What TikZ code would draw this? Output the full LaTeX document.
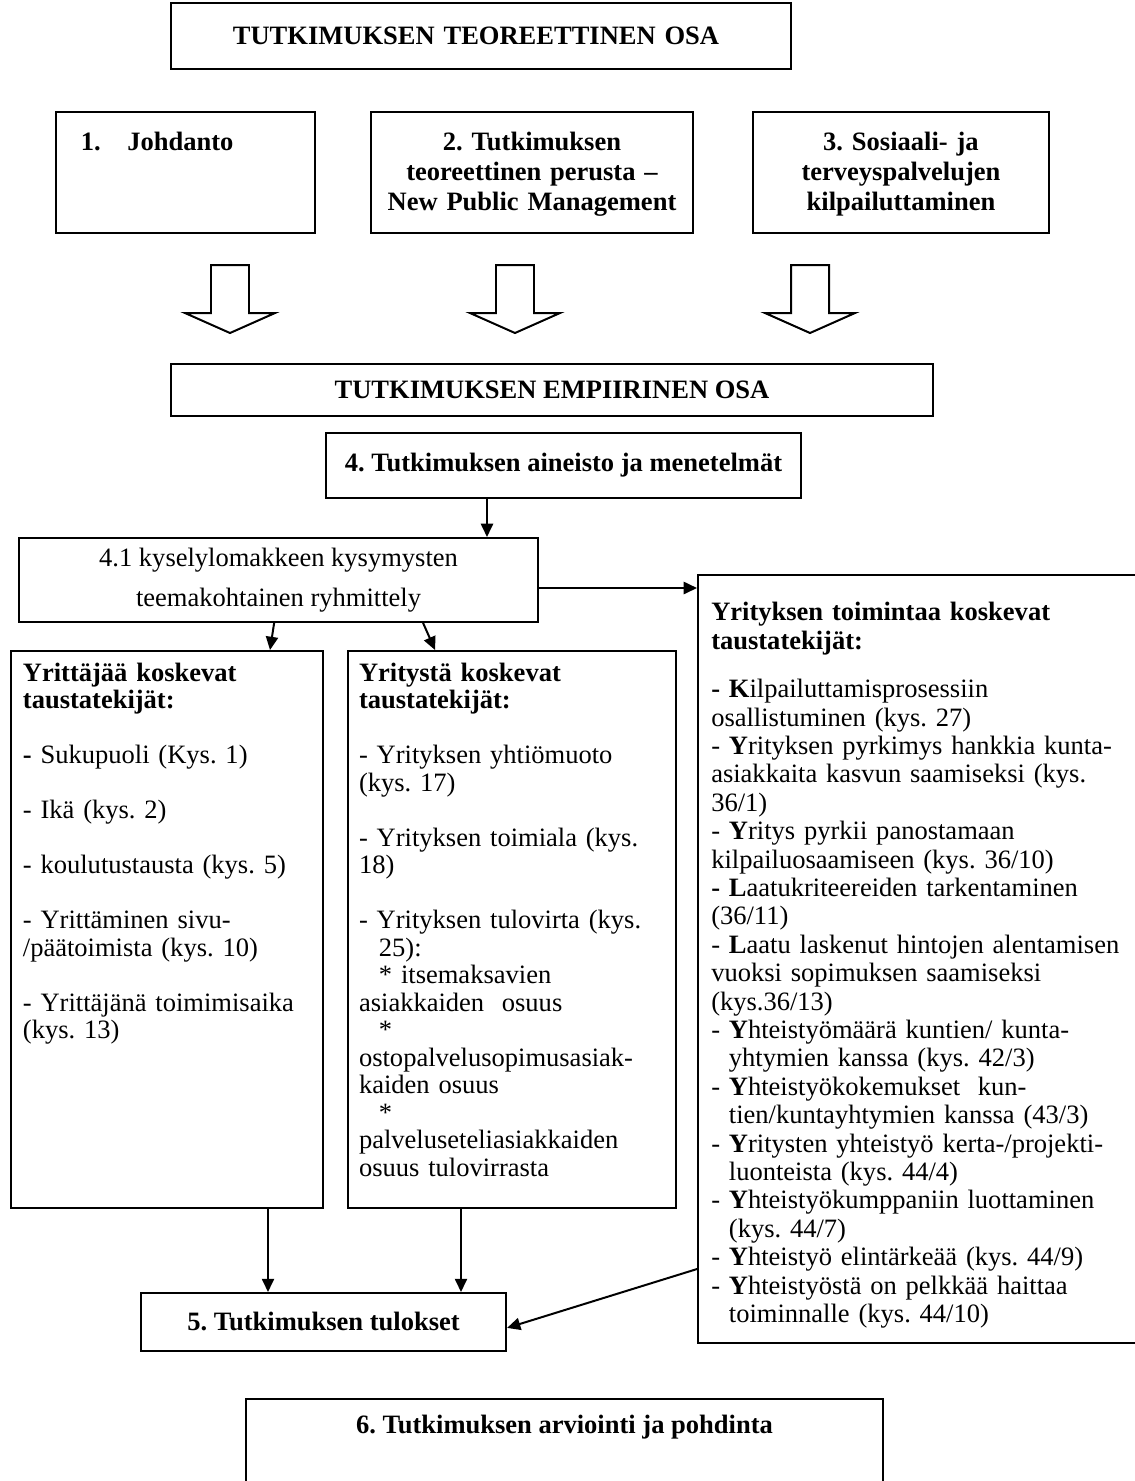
\documentclass[tikz,border=0pt]{standalone}
\usepackage{fontspec}
\setmainfont{Liberation Serif}
\usetikzlibrary{arrows.meta, positioning, calc}
\frenchspacing

\begin{document}
\begin{tikzpicture}[x=0.4525pt, y=-0.4525pt,
  fr/.style={rectangle, draw, line width=0.9pt, anchor=north west},
  head/.style={fr, font=\fontsize{12}{13.6}\selectfont\bfseries},
  body/.style={fr, font=\fontsize{12}{12.45}\selectfont, align=left},
  arr/.style={-{Triangle[length=6pt,width=5.5pt]}, line width=0.9pt},
  blockarrow/.pic={\draw[line width=0.9pt] (-19,0) -- (19,0) -- (19,48) -- (45,48) -- (0,68) -- (-45,48) -- (-19,48) -- cycle;}
]
\useasboundingbox (0,0) rectangle (1134,1481);

% teoreettinen osa
\node[head, minimum height=29.9pt, text width=224.6pt, inner xsep=28pt, align=left] (teor) at (170,2) {TUTKIMUKSEN TEOREETTINEN OSA};
\node[head, text width=94.6pt, inner xsep=11.3pt, inner ysep=9pt, text height=8.5pt, text depth=28.3pt, align=left] (johd) at (55,111) {1.\hspace{12pt}Johdanto};
\node[head, text width=139.7pt, inner xsep=3pt, inner ysep=9pt, text height=8.5pt, text depth=28.3pt, align=center] (npm) at (370,111) {2. Tutkimuksen\\teoreettinen perusta –\\New Public Management};
\node[head, text width=127.9pt, inner xsep=3pt, inner ysep=9pt, text height=8.5pt, text depth=28.3pt, align=center] (kilp) at (752,111) {3. Sosiaali- ja\\terveyspalvelujen\\kilpailuttaminen};

\foreach \x in {230,515,810}
  \pic at (\x,265) {blockarrow};

% empiirinen osa
\node[head, minimum width=344.8pt, minimum height=23.5pt] (empir) at (170,363) {TUTKIMUKSEN EMPIIRINEN OSA};
\node[head, minimum width=214.9pt, minimum height=29.4pt] (aineisto) at (325,432) {4. Tutkimuksen aineisto ja menetelmät};
\node[fr, minimum width=234.9pt, minimum height=38pt, align=center, font=\fontsize{12}{18}\selectfont] (ryhm) at (18,537) {4.1 kyselylomakkeen kysymysten\\teemakohtainen ryhmittely};

\node[body, text width=130.4pt, inner xsep=5.4pt, inner ysep=5pt, text height=8.6pt, text depth=233.4pt] (yrittaja) at (10,650) {%
\textbf{Yrittäjää koskevat\\taustatekijät:}\\[12.45pt]
\textbf{-} Sukupuoli (Kys. 1)\\[12.45pt]
- Ikä (kys. 2)\\[12.45pt]
- koulutustausta (kys. 5)\\[12.45pt]
- Yrittäminen sivu-\\/päätoimista (kys. 10)\\[12.45pt]
\mbox{- Yrittäjänä toimimisaika}\\(kys. 13)};

\node[body, text width=138.4pt, inner xsep=5pt, inner ysep=5pt, text height=8.6pt, text depth=233.4pt] (yritys) at (347,650) {%
\textbf{Yritystä koskevat\\taustatekijät:}\\[12.45pt]
- Yrityksen yhtiömuoto\\(kys. 17)\\[12.45pt]
- Yrityksen toimiala (kys.\\18)\\[12.45pt]
- Yrityksen tulovirta (kys.\\
\hspace*{9pt}25):\\
\hspace*{9pt}* itsemaksavien\\
asiakkaiden\ \ osuus\\
\hspace*{9pt}*\\
ostopalvelusopimusasiak-\\
kaiden osuus\\
\hspace*{9pt}*\\
palveluseteliasiakkaiden\\
osuus tulovirrasta};

\node[body, font=\fontsize{12}{12.85}\selectfont, text width=260pt, inner xsep=6pt, inner ysep=10pt, text height=10.8pt, text depth=316.7pt] (toim) at (697,574) {%
\textbf{Yrityksen toimintaa koskevat\\taustatekijät:}\\[9pt]
\textbf{- K}ilpailuttamisprosessiin\\
osallistuminen (kys. 27)\\
- \textbf{Y}rityksen pyrkimys hankkia kunta-\\
asiakkaita kasvun saamiseksi (kys.\\
36/1)\\
- \textbf{Y}ritys pyrkii panostamaan\\
kilpailuosaamiseen (kys. 36/10)\\
\textbf{- L}aatukriteereiden tarkentaminen\\
(36/11)\\
- \textbf{L}aatu laskenut hintojen alentamisen\\
vuoksi sopimuksen saamiseksi\\
(kys.36/13)\\
- \textbf{Y}hteistyömäärä kuntien/ kunta-\\
\hspace*{8pt}yhtymien kanssa (kys. 42/3)\\
- \textbf{Y}hteistyökokemukset\ \ kun-\\
\hspace*{8pt}tien/kuntayhtymien kanssa (43/3)\\
- \textbf{Y}ritysten yhteistyö kerta-/projekti-\\
\hspace*{8pt}luonteista (kys. 44/4)\\
- \textbf{Y}hteistyökumppaniin luottaminen\\
\hspace*{8pt}(kys. 44/7)\\
- \textbf{Y}hteistyö elintärkeää (kys. 44/9)\\
- \textbf{Y}hteistyöstä on pelkkää haittaa\\
\hspace*{8pt}toiminnalle (kys. 44/10)};

% tulokset
\node[head, minimum width=165.2pt, minimum height=26.2pt] (tulos) at (140,1292) {5. Tutkimuksen tulokset};
\node[head, minimum width=288.2pt, text height=8.8pt, inner ysep=7pt, text depth=40pt] (arvio) at (245,1398) {6. Tutkimuksen arviointi ja pohdinta};

% nuolet
\coordinate (x41) at (487,0);
\coordinate (y41) at (0,588);
\coordinate (x5a) at (268,0);
\coordinate (x5b) at (461,0);
\draw[arr] (aineisto.south -| x41) -- (ryhm.north -| x41);
\draw[arr] (ryhm.east |- y41) -- (toim.west |- y41);
\draw[arr] ([xshift=-2pt]ryhm.south) -- ([xshift=46.6pt]yrittaja.north);
\draw[arr] ([xshift=65.4pt]ryhm.south) -- ([xshift=-34.8pt]yritys.north);
\draw[arr] (yrittaja.south -| x5a) -- (tulos.north -| x5a);
\draw[arr] (yritys.south -| x5b) -- (tulos.north -| x5b);
\draw[arr] ([yshift=-140.3pt]toim.west) -- ([yshift=-2.7pt]tulos.east);
\end{tikzpicture}
\end{document}
